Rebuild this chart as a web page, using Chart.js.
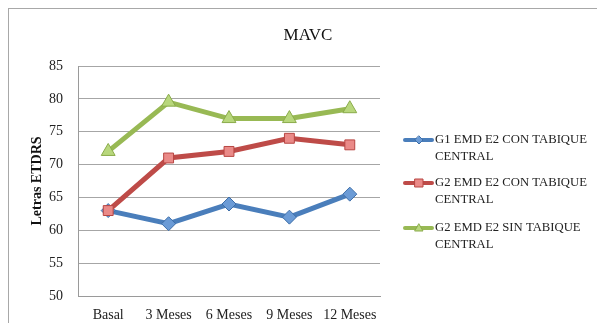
<!DOCTYPE html>
<html>
<head>
<meta charset="utf-8">
<script src="https://cdn.jsdelivr.net/npm/chart.js@4"></script>
<style>
  html, body { margin: 0; padding: 0; background: #fff; overflow: hidden; width: 597px; height: 323px; }
  #frame { position: absolute; left: 8px; top: 8px; width: 640px; height: 360px;
           border-left: 1.5px solid #a8a8a8; border-top: 1.5px solid #a8a8a8; }
  #wrap { position: absolute; left: 0; top: 0; width: 600px; height: 314px; }
</style>
</head>
<body>
<div id="frame"><div id="wrap"><canvas id="c"></canvas></div></div>
<script>
const categories = ['Basal', '3 Meses', '6 Meses', '9 Meses', '12 Meses'];
const g1ConTabique = [63, 61, 64, 62, 65.5];
const g2ConTabique = [63, 71, 72, 74, 73];
const g2SinTabique = [72, 79.5, 77, 77, 78.5];
const yTicks = [50, 55, 60, 65, 70, 75, 80, 85];
const seriesLabels = [
  ['G1 EMD E2 CON TABIQUE', 'CENTRAL'],
  ['G2 EMD E2 CON TABIQUE', 'CENTRAL'],
  ['G2 EMD E2 SIN TABIQUE', 'CENTRAL']
];
const chartTitle = 'MAVC';
const yTitle = 'Letras ETDRS';

const FONT = "'Liberation Serif', 'DejaVu Serif', serif";

// Title and multi-line legend drawn beside the plot
const sidePlugin = {
  id: 'sidePlugin',
  afterDraw(chart) {
    const ctx = chart.ctx;
    ctx.save();
    ctx.fillStyle = '#111';
    ctx.font = '17px ' + FONT;
    ctx.textAlign = 'center';
    ctx.textBaseline = 'middle';
    ctx.fillText(chartTitle, 299, 27);

    const rows = [131, 174, 219];
    chart.data.datasets.forEach((ds, i) => {
      const y = rows[i];
      ctx.strokeStyle = ds.borderColor;
      ctx.lineWidth = 4;
      ctx.lineCap = 'round';
      ctx.beginPath();
      ctx.moveTo(396, y);
      ctx.lineTo(423, y);
      ctx.stroke();
      // marker
      ctx.fillStyle = ds.pointBackgroundColor;
      ctx.strokeStyle = ds.pointBorderColor;
      ctx.lineWidth = 1;
      const cx = 410;
      ctx.beginPath();
      if (ds.pointStyle === 'rectRot') {
        ctx.moveTo(cx, y - 4); ctx.lineTo(cx + 4, y); ctx.lineTo(cx, y + 4); ctx.lineTo(cx - 4, y);
      } else if (ds.pointStyle === 'rect') {
        ctx.rect(cx - 4, y - 4, 8, 8);
      } else {
        ctx.moveTo(cx, y - 4); ctx.lineTo(cx + 4, y + 3); ctx.lineTo(cx - 4, y + 3);
      }
      ctx.closePath();
      ctx.fill();
      ctx.stroke();
      ctx.fillStyle = '#222';
      ctx.font = '12.7px ' + FONT;
      ctx.textAlign = 'left';
      ds.legendLines.forEach((t, k) => ctx.fillText(t, 426, y + k * 16.5));
    });
    ctx.restore();
  }
};

const common = { borderWidth: 5, pointRadius: 7, pointHoverRadius: 7, pointBorderWidth: 1, tension: 0 };

new Chart(document.getElementById('c'), {
  type: 'line',
  data: {
    labels: categories,
    datasets: [
      Object.assign({}, common, {
        label: seriesLabels[0].join(' '), legendLines: seriesLabels[0], data: g1ConTabique, order: 2,
        borderColor: '#4a7ebb', pointBackgroundColor: '#6b9bd6', pointBorderColor: '#3d6ea8',
        pointStyle: 'rectRot', pointRadius: 7
      }),
      Object.assign({}, common, {
        label: seriesLabels[1].join(' '), legendLines: seriesLabels[1], data: g2ConTabique, order: 1,
        borderColor: '#be4b48', pointBackgroundColor: '#ea8a88', pointBorderColor: '#b84643',
        pointStyle: 'rect', pointRadius: 7
      }),
      Object.assign({}, common, {
        label: seriesLabels[2].join(' '), legendLines: seriesLabels[2], data: g2SinTabique, order: 0,
        borderColor: '#98b954', pointBackgroundColor: '#b8d77c', pointBorderColor: '#8aab4a',
        pointStyle: 'triangle', pointRadius: 8
      })
    ]
  },
  options: {
    responsive: true,
    maintainAspectRatio: false,
    animation: false,
    layout: { padding: { left: 0, top: 57, right: 229, bottom: 0 } },
    plugins: { legend: { display: false }, title: { display: false }, tooltip: { enabled: false } },
    scales: {
      x: {
        offset: true,
        grid: { display: false, drawTicks: false },
        border: { color: '#9a9a9a', width: 1 },
        ticks: { color: '#222', font: { family: FONT, size: 14 }, padding: 11, maxRotation: 0 },
        afterFit(s) { s.height = 27; }
      },
      y: {
        min: 50, max: 85,
        afterBuildTicks(s) { s.ticks = yTicks.map(v => ({ value: v })); },
        grid: { color: '#a6a6a6', lineWidth: 1, drawTicks: false },
        border: { color: '#9a9a9a', width: 1 },
        ticks: { color: '#222', font: { family: FONT, size: 14 }, padding: 15 },
        title: { display: true, text: yTitle, color: '#111', font: { family: FONT, size: 14, weight: 'bold' }, padding: { top: 20, bottom: 0 } },
        afterFit(s) { s.width = 69; }
      }
    }
  },
  plugins: [sidePlugin]
});
</script>
</body>
</html>
